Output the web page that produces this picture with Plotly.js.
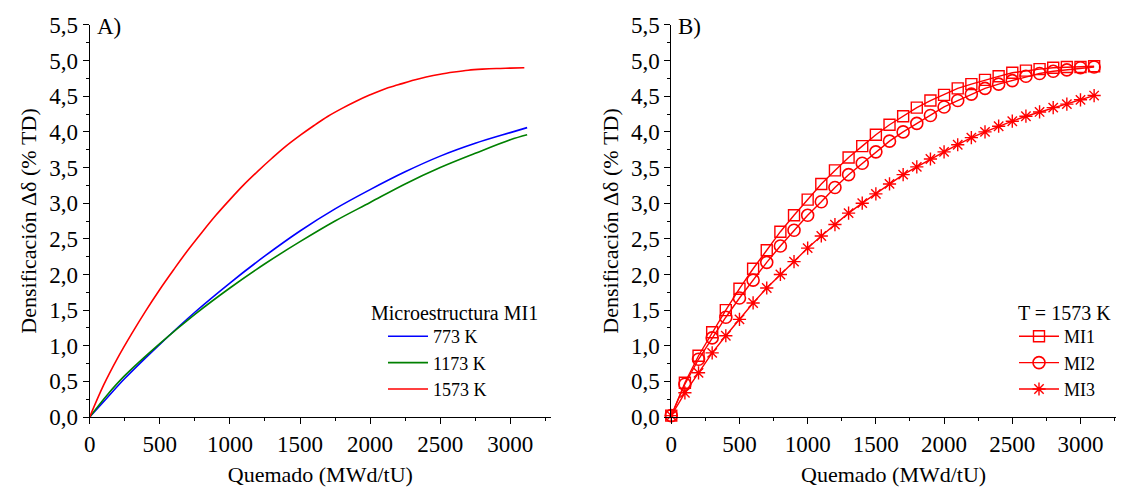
<!DOCTYPE html>
<html><head><meta charset="utf-8">
<script src="https://cdn.plot.ly/plotly-3.0.1.min.js"></script>
<style>body{margin:0;background:#fff}#g{width:1121px;height:487px}</style>
</head><body><div id="g"></div>
<script>
// Panel A: Microestructura MI1
const xA = [0,125,250,500,750,1000,1250,1500,1750,2000,2250,2500,2750,3000,3120];
const y773 = [0,0.27,0.54,1.02,1.47,1.88,2.26,2.61,2.92,3.19,3.44,3.66,3.84,3.99,4.06];
const y1173 = [0,0.31,0.58,1.03,1.44,1.81,2.15,2.46,2.75,3.01,3.27,3.50,3.70,3.89,3.96];
const xA1573 = [0,100,200,300,400,500,600,700,800,900,1000,1100,1200,1300,1400,1500,1600,1700,1800,1900,2000,2100,2200,2300,2400,2500,2600,2700,2800,2900,3000,3100];
const y1573 = [0,0.45,0.83,1.17,1.49,1.79,2.07,2.34,2.59,2.83,3.05,3.26,3.45,3.63,3.80,3.95,4.09,4.22,4.33,4.43,4.52,4.60,4.66,4.72,4.77,4.81,4.84,4.865,4.88,4.89,4.895,4.90];
// Panel B: T = 1573 K
const xB = [0,100,200,300,400,500,600,700,800,900,1000,1100,1200,1300,1400,1500,1600,1700,1800,1900,2000,2100,2200,2300,2400,2500,2600,2700,2800,2900,3000,3100];
const yMI1 = [0.02,0.48,0.86,1.19,1.50,1.80,2.08,2.34,2.60,2.83,3.05,3.27,3.46,3.64,3.80,3.96,4.10,4.22,4.34,4.44,4.52,4.61,4.67,4.73,4.78,4.83,4.86,4.88,4.90,4.91,4.91,4.92];
const yMI2 = [0.02,0.46,0.81,1.11,1.40,1.67,1.92,2.17,2.40,2.62,2.83,3.02,3.22,3.40,3.56,3.72,3.87,4.00,4.12,4.23,4.35,4.44,4.53,4.61,4.67,4.72,4.78,4.82,4.85,4.87,4.90,4.91];
const yMI3 = [0.02,0.34,0.62,0.90,1.14,1.37,1.60,1.81,2.00,2.18,2.37,2.54,2.70,2.86,3.00,3.13,3.27,3.40,3.51,3.62,3.72,3.82,3.92,4.00,4.08,4.15,4.22,4.28,4.34,4.39,4.45,4.51];
const xTicks = [0,500,1000,1500,2000,2500,3000];
const yTicks = [0,0.5,1,1.5,2,2.5,3,3.5,4,4.5,5,5.5];

const F = "Liberation Serif";
const red = "#ff0000";

const traces = [
  {x:xA,y:y773,name:"773 K",mode:"lines",line:{color:"#0000ff",width:1.6,shape:"spline"},xaxis:"x",yaxis:"y",legend:"legend"},
  {x:xA,y:y1173,name:"1173 K",mode:"lines",line:{color:"#008000",width:1.6,shape:"spline"},xaxis:"x",yaxis:"y",legend:"legend"},
  {x:xA1573,y:y1573,name:"1573 K",mode:"lines",line:{color:red,width:1.6,shape:"spline"},xaxis:"x",yaxis:"y",legend:"legend"},
  {x:xB,y:yMI1,name:"MI1",mode:"lines+markers",line:{color:red,width:1.4},marker:{symbol:"square-open",size:11,color:red,line:{width:1.4,color:red}},xaxis:"x2",yaxis:"y2",legend:"legend2",cliponaxis:false},
  {x:xB,y:yMI2,name:"MI2",mode:"lines+markers",line:{color:red,width:1.4},marker:{symbol:"circle-open",size:12,color:red,line:{width:1.6,color:red}},xaxis:"x2",yaxis:"y2",legend:"legend2",cliponaxis:false},
  {x:xB,y:yMI3,name:"MI3",mode:"lines+markers",line:{color:red,width:1.4},marker:{symbol:"asterisk-open",size:11,color:red,line:{width:1.4,color:red}},xaxis:"x2",yaxis:"y2",legend:"legend2",cliponaxis:false}
];

function xax(dom, maxv){
  return {domain:dom,range:[0,maxv],tickvals:xTicks,ticks:"outside",ticklen:6,tickwidth:1,tickcolor:"#000",
    showline:true,linecolor:"#000",linewidth:1,showgrid:false,zeroline:false,
    minor:{ticks:"outside",ticklen:3,dtick:250,tick0:0,tickcolor:"#000",showgrid:false},
    tickfont:{family:F,size:23,color:"#000"},
    title:{text:"Quemado (MWd/tU)",font:{family:F,size:22,color:"#000"},standoff:14}};
}
function yax(anchor){
  return {domain:[0.1437,0.9487],range:[0,5.5],tickvals:yTicks,tickformat:".1f",ticks:"outside",ticklen:6,tickwidth:1,tickcolor:"#000",
    showline:true,linecolor:"#000",linewidth:1,showgrid:false,zeroline:false,anchor:anchor,
    minor:{ticks:"outside",ticklen:3,dtick:0.25,tick0:0,tickcolor:"#000",showgrid:false},
    tickfont:{family:F,size:23,color:"#000"},
    title:{text:"Densificación Δδ (% TD)",font:{family:F,size:22,color:"#000"},standoff:6}};
}

const layout = {
  width:1121,height:487,margin:{l:0,r:0,t:0,b:0},
  paper_bgcolor:"#fff",plot_bgcolor:"#fff",separators:",.",
  font:{family:F,color:"#000"},
  xaxis:Object.assign(xax([0.0800,0.4915],3290),{anchor:"y"}),
  yaxis:yax("x"),
  xaxis2:Object.assign(xax([0.5988,0.9955],3260),{anchor:"y2"}),
  yaxis2:yax("x2"),
  legend:{x:383/1121,y:0.347,xanchor:"left",yanchor:"top",bgcolor:"rgba(0,0,0,0)",
    font:{family:F,size:18,color:"#000"},tracegroupgap:0,itemwidth:40},
  legend2:{x:1014/1121,y:0.347,xanchor:"left",yanchor:"top",bgcolor:"rgba(0,0,0,0)",
    font:{family:F,size:18,color:"#000"},tracegroupgap:0,itemwidth:40},
  annotations:[
    {text:"A)",xref:"paper",yref:"paper",x:0.085,y:0.975,xanchor:"left",yanchor:"top",showarrow:false,font:{family:F,size:23,color:"#000"}},
    {text:"B)",xref:"paper",yref:"paper",x:0.603,y:0.975,xanchor:"left",yanchor:"top",showarrow:false,font:{family:F,size:23,color:"#000"}},
    {text:"Microestructura MI1",xref:"paper",yref:"paper",x:369/1121,y:1-313/487,xanchor:"left",yanchor:"middle",showarrow:false,font:{family:F,size:20,color:"#000"}},
    {text:"T = 1573 K",xref:"paper",yref:"paper",x:1016/1121,y:1-313/487,xanchor:"left",yanchor:"middle",showarrow:false,font:{family:F,size:20,color:"#000"}}
  ]
};
Plotly.newPlot("g",traces,layout,{displayModeBar:false,staticPlot:true});
</script></body></html>
